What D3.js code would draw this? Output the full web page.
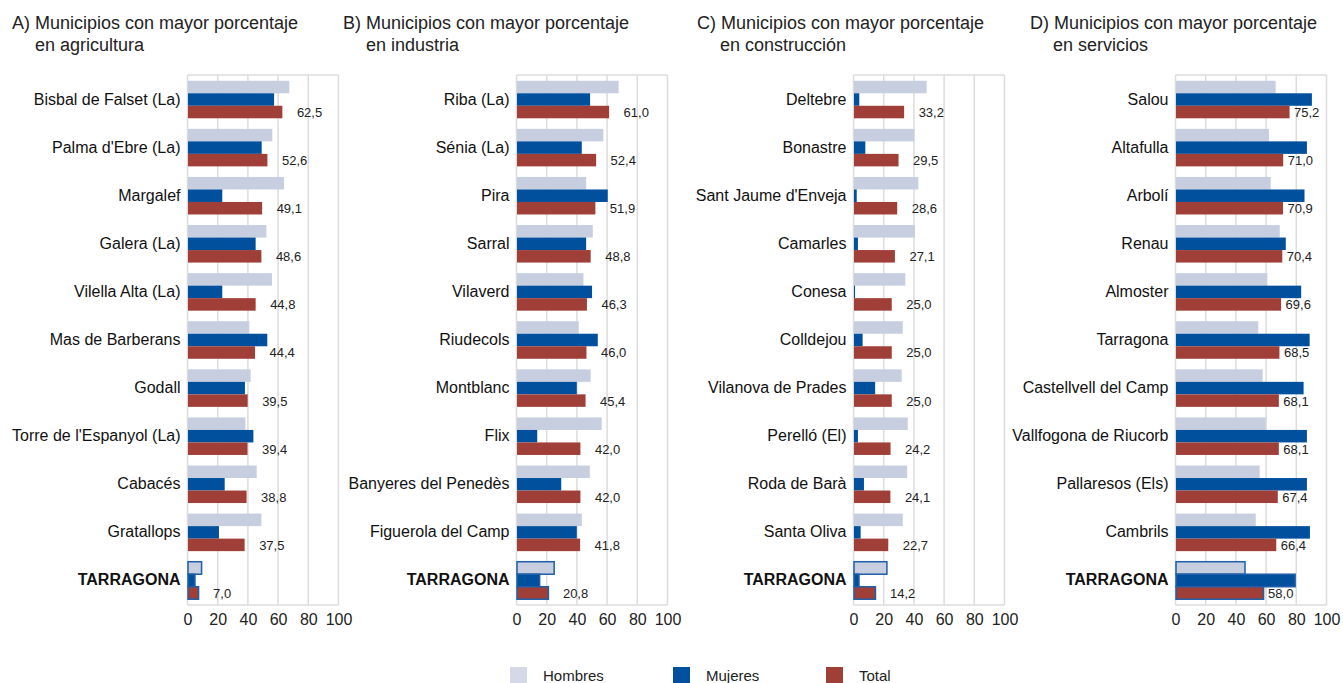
<!DOCTYPE html>
<html>
<head>
<meta charset="utf-8">
<script src="https://cdn.jsdelivr.net/npm/d3@7"></script>
<style>
body { margin: 0; background: #fff; }
svg { display: block; font-family: "Liberation Sans", Arial, sans-serif; }
</style>
</head>
<body>
<svg id="chart" width="1343" height="683"></svg>
<script>
// data
var titles = [
    ["A) Municipios con mayor porcentaje", "en agricultura"],
    ["B) Municipios con mayor porcentaje", "en industria"],
    ["C) Municipios con mayor porcentaje", "en construcción"],
    ["D) Municipios con mayor porcentaje", "en servicios"]
];

var catsA = ["Bisbal de Falset (La)", "Palma d'Ebre (La)", "Margalef", "Galera (La)", "Vilella Alta (La)", "Mas de Barberans", "Godall", "Torre de l'Espanyol (La)", "Cabacés", "Gratallops", "TARRAGONA"];
var hombresA = [67.1, 55.8, 63.6, 51.9, 55.6, 40.6, 41.5, 38.0, 45.5, 48.6, 9.0];
var mujeresA = [57.0, 48.8, 22.7, 44.8, 22.7, 52.5, 37.7, 43.3, 24.3, 20.5, 4.6];
var totalA   = [62.5, 52.6, 49.1, 48.6, 44.8, 44.4, 39.5, 39.4, 38.8, 37.5, 7.0];

var catsB = ["Riba (La)", "Sénia (La)", "Pira", "Sarral", "Vilaverd", "Riudecols", "Montblanc", "Flix", "Banyeres del Penedès", "Figuerola del Camp", "TARRAGONA"];
var hombresB = [67.3, 57.2, 45.8, 50.2, 44.0, 40.9, 48.8, 56.1, 48.2, 42.9, 24.6];
var mujeresB = [48.4, 42.9, 60.1, 45.8, 49.7, 53.5, 39.6, 13.4, 29.3, 39.6, 15.0];
var totalB   = [61.0, 52.4, 51.9, 48.8, 46.3, 46.0, 45.4, 42.0, 42.0, 41.8, 20.8];

var catsC = ["Deltebre", "Bonastre", "Sant Jaume d'Enveja", "Camarles", "Conesa", "Colldejou", "Vilanova de Prades", "Perelló (El)", "Roda de Barà", "Santa Oliva", "TARRAGONA"];
var hombresC = [48.1, 40.0, 42.6, 40.4, 34.0, 32.3, 31.6, 35.6, 35.2, 32.3, 21.8];
var mujeresC = [3.5, 7.5, 1.8, 2.6, 0.7, 5.7, 14.0, 2.6, 6.6, 4.4, 3.3];
var totalC   = [33.2, 29.5, 28.6, 27.1, 25.0, 25.0, 25.0, 24.2, 24.1, 22.7, 14.2];

var catsD = ["Salou", "Altafulla", "Arbolí", "Renau", "Almoster", "Tarragona", "Castellvell del Camp", "Vallfogona de Riucorb", "Pallaresos (Els)", "Cambrils", "TARRAGONA"];
var hombresD = [66.0, 61.6, 62.7, 68.7, 60.5, 54.5, 57.4, 59.4, 55.4, 52.8, 45.7];
var mujeresD = [90.0, 86.7, 85.1, 72.7, 82.9, 88.5, 84.5, 86.7, 86.7, 88.7, 78.9];
var totalD   = [75.2, 71.0, 70.9, 70.4, 69.6, 68.5, 68.1, 68.1, 67.4, 66.4, 58.0];

var seriesNames = ["Hombres", "Mujeres", "Total"];
var xTicks = [0, 20, 40, 60, 80, 100];

var panels = [
    {cats: catsA, vals: [hombresA, mujeresA, totalA], x0: 187.5, gap: 15},
    {cats: catsB, vals: [hombresB, mujeresB, totalB], x0: 516.5, gap: 15},
    {cats: catsC, vals: [hombresC, mujeresC, totalC], x0: 853.5, gap: 15},
    {cats: catsD, vals: [hombresD, mujeresD, totalD], x0: 1175.5, gap: 5}
];
var titleX = [12, 343, 697, 1030];

var color = d3.scaleOrdinal().domain(seriesNames).range(["#c6cee0", "#00509d", "#a03f37"]);
var fmt = function(v) { return d3.format(".1f")(v).replace(".", ","); };

var svg = d3.select("#chart");
var plotTop = 75, plotBottom = 605, plotW = 151;

panels.forEach(function(p, i) {
    // title
    var t = svg.append("text")
        .attr("x", titleX[i]).attr("y", 29)
        .style("font-size", "18px").style("fill", "#222");
    t.append("tspan").attr("x", titleX[i]).text(titles[i][0]);
    t.append("tspan").attr("x", titleX[i] + 23).attr("dy", 22).text(titles[i][1]);

    var g = svg.append("g").attr("transform", "translate(" + p.x0 + ",0)");

    var x = d3.scaleLinear().domain([0, 100]).range([0, plotW]);
    var y = d3.scaleBand().domain(p.cats).range([plotTop, plotBottom])
        .paddingInner(0.22).paddingOuter(0.12);
    var ys = d3.scaleBand().domain(seriesNames).range([0, y.bandwidth()]);

    // grid + frame
    g.selectAll(".grid").data(xTicks).enter().append("line")
        .attr("x1", function(d) { return x(d); }).attr("x2", function(d) { return x(d); })
        .attr("y1", plotTop).attr("y2", plotBottom)
        .style("stroke", "#dcdcdc").style("stroke-width", 1.5);
    g.append("line").attr("x1", 0).attr("x2", plotW).attr("y1", plotTop).attr("y2", plotTop)
        .style("stroke", "#dcdcdc").style("stroke-width", 1.5);
    g.append("line").attr("x1", 0).attr("x2", plotW).attr("y1", plotBottom).attr("y2", plotBottom)
        .style("stroke", "#dcdcdc").style("stroke-width", 1.5);

    // bars
    var groups = g.selectAll(".grp").data(p.cats).enter().append("g")
        .attr("transform", function(d) { return "translate(0," + y(d) + ")"; });

    groups.selectAll("rect")
        .data(function(d, j) {
            return seriesNames.map(function(s, k) {
                return {series: s, value: p.vals[k][j], last: j === p.cats.length - 1};
            });
        })
        .enter().append("rect")
            .attr("x", 0.5)
            .attr("y", function(d) { return ys(d.series); })
            .attr("width", function(d) { return x(d.value); })
            .attr("height", ys.bandwidth())
            .style("fill", function(d) { return color(d.series); })
            .style("stroke", function(d) { return d.last ? "#1f5ea8" : "none"; })
            .style("stroke-width", 1.5);

    // value labels next to the Total bar
    groups.append("text")
        .attr("x", function(d, j) { return x(p.vals[2][j]) + p.gap; })
        .attr("y", ys("Total") + ys.bandwidth() / 2 + 5)
        .style("font-size", "13px").style("fill", "#222")
        .text(function(d, j) { return fmt(p.vals[2][j]); });

    // category labels
    g.selectAll(".cat").data(p.cats).enter().append("text")
        .attr("x", -7)
        .attr("y", function(d) { return y(d) + y.bandwidth() / 2 + 5; })
        .attr("text-anchor", "end")
        .style("font-size", "16px").style("fill", "#111")
        .style("font-weight", function(d, j) { return j === p.cats.length - 1 ? "bold" : "normal"; })
        .text(function(d) { return d; });

    // x axis
    var ax = g.append("g").attr("transform", "translate(0," + plotBottom + ")")
        .call(d3.axisBottom(x).tickValues(xTicks).tickSize(0).tickPadding(9));
    ax.select(".domain").remove();
    ax.selectAll("text").style("font-size", "16px").style("fill", "#222")
        .style("font-family", "Liberation Sans, Arial, sans-serif");
});

// legend
var legX = [510, 673, 826];
var leg = svg.selectAll(".leg").data(seriesNames).enter().append("g")
    .attr("transform", function(d, i) { return "translate(" + legX[i] + ",667)"; });
leg.append("rect").attr("width", 17).attr("height", 17)
    .style("fill", function(d) { return d === "Hombres" ? "#d5d9e7" : color(d); });
leg.append("text").attr("x", 33).attr("y", 14)
    .style("font-size", "15px").style("fill", "#222")
    .text(function(d) { return d; });
</script>
</body>
</html>
